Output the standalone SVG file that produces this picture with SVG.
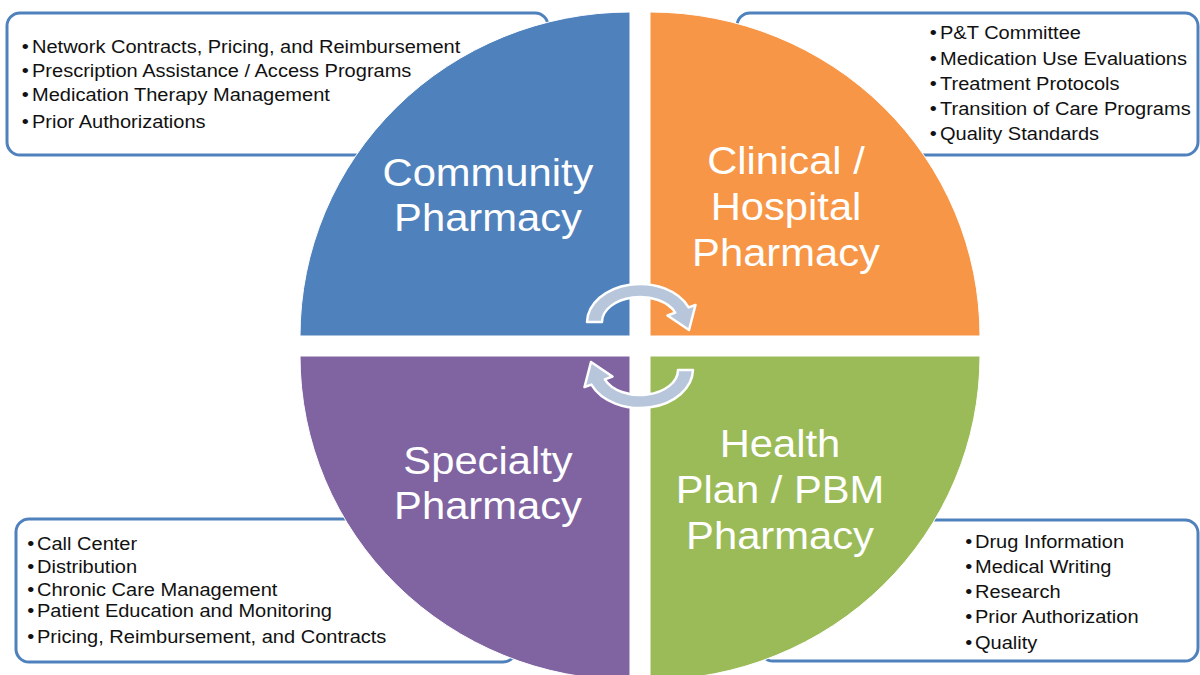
<svg xmlns="http://www.w3.org/2000/svg" width="1200" height="675" viewBox="0 0 1200 675">
  <style>
    .box { fill: #ffffff; stroke: #4F81BD; stroke-width: 3; }
    .item { font-family: "Liberation Sans", Arial, sans-serif; font-size: 18.5px; fill: #111111; }
    .title { font-family: "Liberation Sans", Arial, sans-serif; font-size: 39px; fill: #ffffff; text-anchor: middle; }
    .quad { stroke: #ffffff; stroke-width: 1; }
    .cyc { fill: #B7C6DB; stroke: #ffffff; stroke-width: 2.5; stroke-linejoin: round; }
  </style>
  <defs>
    <path id="cycleArrow" d="M 587,322 A 53 39 0 0 1 688.6,307.4 L 695.5,305 L 689,330 L 667.5,315.5 L 675.2,312.6 A 38 25 0 0 0 602,322 Z"/>
  </defs>
  <rect width="1200" height="675" fill="#ffffff"/>

  <g id="box-community">
    <rect class="box" x="7" y="13" width="541" height="142" rx="13"/>
    <g class="item" transform="translate(32,0) scale(1.083,1)">
      <text x="-9.5" y="53">•</text><text x="0" y="53">Network Contracts, Pricing, and Reimbursement</text>
      <text x="-9.5" y="77">•</text><text x="0" y="77">Prescription Assistance / Access Programs</text>
      <text x="-9.5" y="101">•</text><text x="0" y="101">Medication Therapy Management</text>
      <text x="-9.5" y="128">•</text><text x="0" y="128">Prior Authorizations</text>
    </g>
  </g>

  <g id="box-clinical">
    <rect class="box" x="737" y="13" width="461" height="142" rx="13"/>
    <g class="item" transform="translate(940,0) scale(1.083,1)">
      <text x="-9.5" y="39">•</text><text x="0" y="39">P&amp;T Committee</text>
      <text x="-9.5" y="65">•</text><text x="0" y="65">Medication Use Evaluations</text>
      <text x="-9.5" y="90">•</text><text x="0" y="90">Treatment Protocols</text>
      <text x="-9.5" y="115">•</text><text x="0" y="115">Transition of Care Programs</text>
      <text x="-9.5" y="140">•</text><text x="0" y="140">Quality Standards</text>
    </g>
  </g>

  <g id="box-specialty">
    <rect class="box" x="16" y="519" width="500" height="143" rx="13"/>
    <g class="item" transform="translate(37,0) scale(1.083,1)">
      <text x="-9" y="550">•</text><text x="0" y="550">Call Center</text>
      <text x="-9" y="573">•</text><text x="0" y="573">Distribution</text>
      <text x="-9" y="596">•</text><text x="0" y="596">Chronic Care Management</text>
      <text x="-9" y="617">•</text><text x="0" y="617">Patient Education and Monitoring</text>
      <text x="-9" y="643">•</text><text x="0" y="643">Pricing, Reimbursement, and Contracts</text>
    </g>
  </g>

  <g id="box-healthplan">
    <rect class="box" x="760" y="520" width="438" height="141" rx="13"/>
    <g class="item" transform="translate(975,0) scale(1.083,1)">
      <text x="-9" y="548">•</text><text x="0" y="548">Drug Information</text>
      <text x="-9" y="573">•</text><text x="0" y="573">Medical Writing</text>
      <text x="-9" y="598">•</text><text x="0" y="598">Research</text>
      <text x="-9" y="623">•</text><text x="0" y="623">Prior Authorization</text>
      <text x="-9" y="649">•</text><text x="0" y="649">Quality</text>
    </g>
  </g>

  <g id="community">
    <path class="quad" fill="#4F81BD" d="M630,336 L300,336 A330 324 0 0 1 630,12 Z"/>
    <text class="title" transform="translate(488,0) scale(1.07,1)" x="0" y="186">Community</text>
    <text class="title" transform="translate(488,0) scale(1.07,1)" x="0" y="231">Pharmacy</text>
  </g>

  <g id="clinical">
    <path class="quad" fill="#F79646" d="M650,336 L650,12 A330 324 0 0 1 980,336 Z"/>
    <text class="title" transform="translate(786,0) scale(1.07,1)" x="0" y="174">Clinical /</text>
    <text class="title" transform="translate(786,0) scale(1.07,1)" x="0" y="220">Hospital</text>
    <text class="title" transform="translate(786,0) scale(1.07,1)" x="0" y="266">Pharmacy</text>
  </g>

  <g id="specialty">
    <path class="quad" fill="#8064A2" d="M630,356 L630,680 A330 324 0 0 1 300,356 Z"/>
    <text class="title" transform="translate(488,0) scale(1.07,1)" x="0" y="474">Specialty</text>
    <text class="title" transform="translate(488,0) scale(1.07,1)" x="0" y="519">Pharmacy</text>
  </g>

  <g id="healthplan">
    <path class="quad" fill="#9BBB59" d="M650,356 L980,356 A330 324 0 0 1 650,680 Z"/>
    <text class="title" transform="translate(780,0) scale(1.07,1)" x="0" y="457">Health</text>
    <text class="title" transform="translate(780,0) scale(1.07,1)" x="0" y="503">Plan / PBM</text>
    <text class="title" transform="translate(780,0) scale(1.07,1)" x="0" y="549">Pharmacy</text>
  </g>

  <g id="connectors">
    <use href="#cycleArrow" class="cyc"/>
    <use href="#cycleArrow" class="cyc" transform="rotate(180 640 346)"/>
  </g>
</svg>
